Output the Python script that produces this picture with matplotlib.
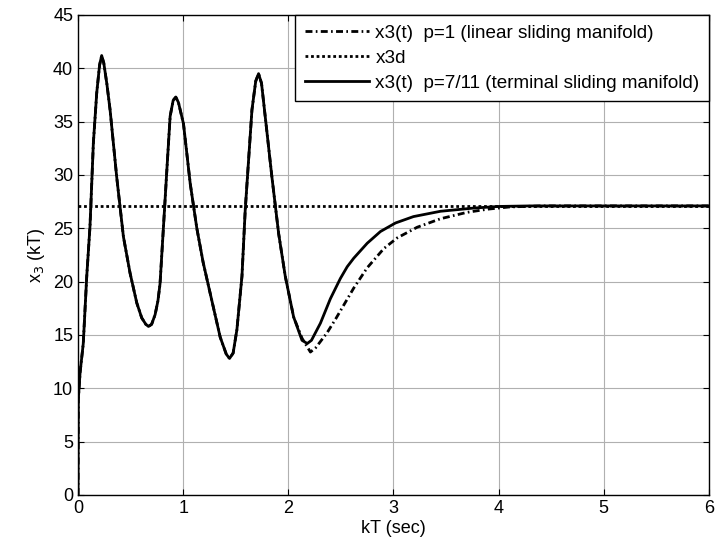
import numpy as np
import matplotlib.pyplot as plt

plt.rcParams['font.family'] = ['Liberation Sans', 'DejaVu Sans']

# shared part of both x3(t) responses (curves overlap up to ~2.05 s)
t_common = [0, 0.003, 0.02, 0.05, 0.083, 0.114, 0.146, 0.178, 0.205, 0.225, 0.245,
            0.275, 0.305, 0.368, 0.432, 0.495, 0.559, 0.606, 0.645, 0.67, 0.70,
            0.733, 0.76, 0.78, 0.813, 0.845, 0.876, 0.905, 0.93, 0.955, 1.003,
            1.067, 1.13, 1.19, 1.257, 1.352, 1.41, 1.441, 1.475, 1.511, 1.559,
            1.59, 1.622, 1.654, 1.69, 1.717, 1.745, 1.78, 1.844, 1.908, 1.971, 2.05]
x3_common = [0, 9.0, 11.5, 14.2, 20.5, 25.2, 33.0, 37.7, 40.3, 41.2, 40.5,
             38.5, 36.1, 29.8, 24.2, 20.8, 18.0, 16.6, 16.0, 15.8, 16.0,
             16.9, 18.2, 19.8, 25.2, 30.5, 35.5, 37.0, 37.3, 36.8, 34.8,
             29.2, 25.0, 21.8, 18.9, 14.8, 13.2, 12.8, 13.3, 15.5, 20.5,
             26.7, 31.4, 36.1, 38.8, 39.5, 38.6, 35.5, 29.8, 24.5, 20.5, 16.7]

# p=1 (linear sliding manifold) tail
t_lin_tail = [2.13, 2.21, 2.26, 2.368, 2.45, 2.527, 2.622, 2.75, 2.908, 3.035, 3.225,
              3.448, 3.7, 3.9, 4.1, 4.4, 6.0]
x3_lin_tail = [14.7, 13.4, 13.8, 15.2, 16.5, 17.8, 19.4, 21.3, 23.1, 24.1, 25.1,
               25.9, 26.5, 26.8, 27.0, 27.1, 27.1]

# p=7/11 (terminal sliding manifold) tail
t_term_tail = [2.13, 2.18, 2.22, 2.305, 2.4, 2.495, 2.56, 2.622, 2.75, 2.876, 3.019,
               3.19, 3.448, 3.765, 4.0, 4.3, 6.0]
x3_term_tail = [14.5, 14.2, 14.5, 16.1, 18.4, 20.3, 21.4, 22.2, 23.6, 24.7, 25.5,
                26.1, 26.6, 26.9, 27.05, 27.1, 27.1]

x3d = 27.1
t_range = [0, 6]

t_lin = np.concatenate([t_common, t_lin_tail])
x3_lin = np.concatenate([x3_common, x3_lin_tail])
t_term = np.concatenate([t_common, t_term_tail])
x3_term = np.concatenate([x3_common, x3_term_tail])

fs = 13

fig = plt.figure(figsize=(7.17, 5.49), dpi=100)
ax = fig.add_axes([0.1088, 0.0984, 0.88, 0.8743])

ax.plot(t_lin, x3_lin, color='black', lw=2, linestyle=(0, (2.5, 1.2, 0.6, 1.2)),
        label='x3(t)  p=1 (linear sliding manifold)')
ax.plot(t_range, [x3d, x3d], color='black', lw=2, linestyle=(0, (1, 1)),
        label='x3d')
ax.plot(t_term, x3_term, color='black', lw=2, linestyle='-',
        label='x3(t)  p=7/11 (terminal sliding manifold)')

ax.set_xlim(0, 6)
ax.set_ylim(0, 45)
ax.set_xticks(range(0, 7))
ax.set_yticks(range(0, 46, 5))
ax.grid(True, color='#b0b0b0', lw=0.8)
ax.tick_params(direction='in', length=4, top=True, right=True, labelsize=fs)
for s in ax.spines.values():
    s.set_linewidth(1)

ax.set_xlabel('kT (sec)', fontsize=fs, labelpad=2)
ax.set_ylabel('x$_3$ (kT)', fontsize=fs, labelpad=4)

leg = ax.legend(loc='upper right', borderaxespad=0, fancybox=False,
                edgecolor='black', fontsize=13.6, handlelength=3.4,
                handletextpad=0.35, framealpha=1, labelspacing=0.42,
                borderpad=0.5)
leg.get_frame().set_linewidth(1)

fig.savefig('out.png', dpi=100)
